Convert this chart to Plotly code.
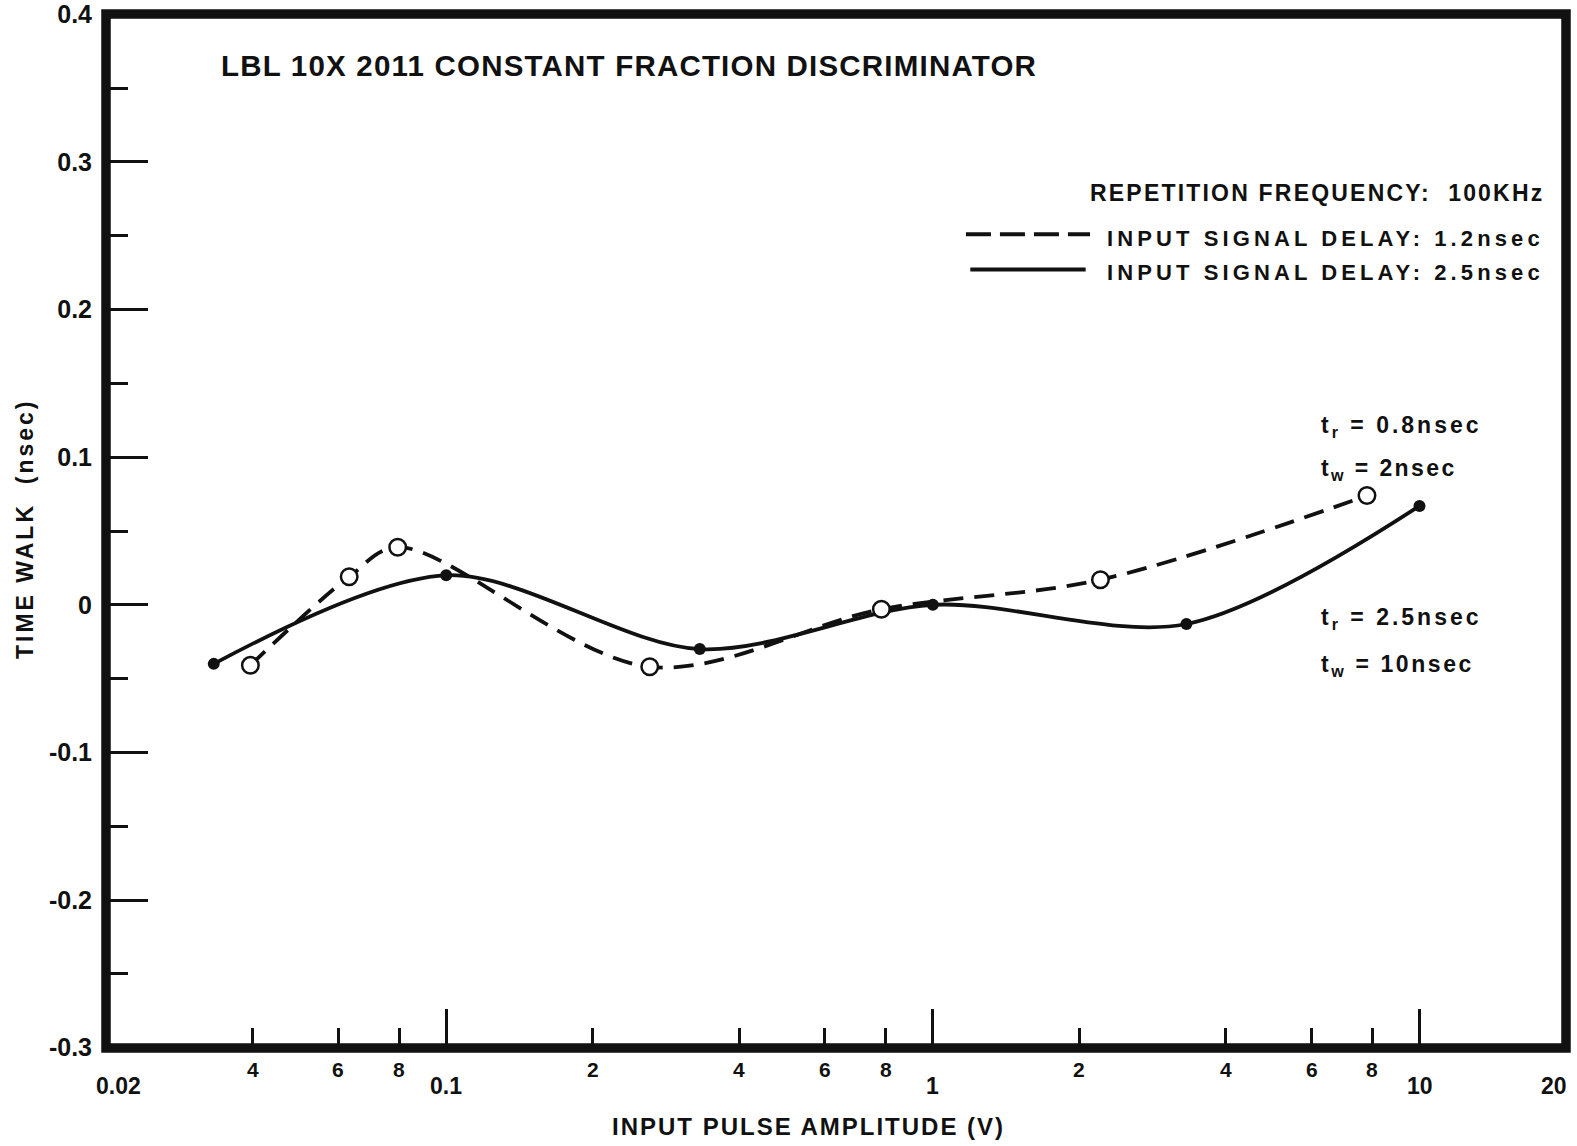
import plotly.graph_objects as go
import numpy as np

# Data (input pulse amplitude in V, time walk in nsec)
amp_solid = [0.0333, 0.100, 0.332, 1.00, 3.32, 10.0]
walk_solid = [-0.040, 0.020, -0.030, 0.000, -0.013, 0.067]
amp_dash = [0.0396, 0.0632, 0.0795, 0.262, 0.784, 2.21, 7.8]
walk_dash = [-0.041, 0.019, 0.039, -0.042, -0.003, 0.017, 0.074]

y_major = [-0.3, -0.2, -0.1, 0.0, 0.1, 0.2, 0.3, 0.4]
y_labels = ["-0.3", "-0.2", "-0.1", "0", "0.1", "0.2", "0.3", "0.4"]
y_minor = [-0.25, -0.15, -0.05, 0.05, 0.15, 0.25, 0.35]
x_major = [0.1, 1, 10]
x_minor = [0.04, 0.06, 0.08, 0.2, 0.4, 0.6, 0.8, 2, 4, 6, 8]
x_minor_labels = ["4", "6", "8", "2", "4", "6", "8", "2", "4", "6", "8"]
x_major_pos = [0.0212, 0.1, 1, 10, 18.9]
x_major_labels = ["0.02", "0.1", "1", "10", "20"]

FONT = "Liberation Sans"
BLACK = "#111111"

fig = go.Figure()
fig.add_trace(go.Scatter(x=amp_dash, y=walk_dash, mode="lines",
                         line=dict(color=BLACK, width=3.8, dash="20px,11px", shape="spline", smoothing=0.95),
                         hoverinfo="skip"))
fig.add_trace(go.Scatter(x=amp_solid, y=walk_solid, mode="lines",
                         line=dict(color=BLACK, width=3.8, shape="spline", smoothing=0.9),
                         hoverinfo="skip"))
fig.add_trace(go.Scatter(x=amp_solid, y=walk_solid, mode="markers",
                         marker=dict(symbol="circle", size=12, color=BLACK)))
fig.add_trace(go.Scatter(x=amp_dash, y=walk_dash, mode="markers",
                         marker=dict(symbol="circle", size=16.5, color="white",
                                     line=dict(color=BLACK, width=2.5))))

fig.update_layout(
    width=1577, height=1146,
    margin=dict(l=106, r=10.5, t=14, b=98),
    paper_bgcolor="white", plot_bgcolor="white",
    showlegend=False,
    font=dict(family=FONT, color=BLACK),
)
fig.update_xaxes(type="log", range=[np.log10(0.02), np.log10(20)], automargin=False,
                 showgrid=False, zeroline=False, showline=False,
                 tickmode="array", tickvals=x_major, ticks="inside", ticklen=39,
                 tickwidth=2.8, tickcolor=BLACK, showticklabels=False,
                 minor=dict(tickmode="array", tickvals=x_minor, ticks="inside",
                            ticklen=20, tickwidth=2.8, tickcolor=BLACK, showgrid=False))
fig.update_yaxes(range=[-0.3002, 0.4002], automargin=False,
                 showgrid=False, zeroline=False, showline=False,
                 tickmode="array", tickvals=y_major, ticktext=y_labels,
                 ticks="inside", ticklen=42, tickwidth=2.8, tickcolor=BLACK,
                 tickfont=dict(family=FONT, size=25, color=BLACK, weight="bold"),
                 ticklabelstandoff=13,
                 minor=dict(tickmode="array", tickvals=y_minor, ticks="inside",
                            ticklen=22, tickwidth=2.8, tickcolor=BLACK, showgrid=False))

ann = []
def add(text, x, y, size, xanchor="left", yanchor="middle", xref="paper", yref="paper", angle=0):
    ann.append(dict(text=text, x=x, y=y, xref=xref, yref=yref, showarrow=False,
                    xanchor=xanchor, yanchor=yanchor, textangle=angle,
                    font=dict(family=FONT, size=size, color=BLACK, weight="bold")))

def sp(text, px):
    return '<span style="letter-spacing:%spx">%s</span>' % (px, text)

add(sp("LBL 10X 2011 CONSTANT FRACTION DISCRIMINATOR", 1.2), 0.0776, 0.950, 29.5)
add(sp("REPETITION FREQUENCY:  100KHz", 2.2), 0.6728, 0.827, 23)
add(sp("INPUT SIGNAL DELAY: 1.2nsec", 4.1), 0.6845, 0.783, 22)
add(sp("INPUT SIGNAL DELAY: 2.5nsec", 4.1), 0.6845, 0.750, 22)
add(sp("t<sub>r</sub> = 0.8nsec", 3), 0.831, 0.601, 23)
add(sp("t<sub>w</sub> = 2nsec", 2.4), 0.831, 0.559, 23)
add(sp("t<sub>r</sub> = 2.5nsec", 3), 0.831, 0.415, 23)
add(sp("t<sub>w</sub> = 10nsec", 2.6), 0.831, 0.370, 23)
add(sp("TIME WALK  (nsec)", 3), -0.0554, 0.502, 23, xanchor="center", angle=-90)
add(sp("INPUT PULSE AMPLITUDE (V)", 2), 0.481, -0.0758, 24, xanchor="center")

for v, t in zip(x_minor, x_minor_labels):
    add(t, np.log10(v), -0.0205, 21, xanchor="center", xref="x")
for v, t in zip(x_major_pos, x_major_labels):
    add(t, np.log10(v), -0.037, 23, xanchor="center", xref="x")

fig.update_layout(annotations=ann)

# frame, centred on the range ends
fig.add_shape(type="rect", xref="paper", yref="paper", x0=0, x1=1, y0=0, y1=1,
              line=dict(color=BLACK, width=9.5), fillcolor="rgba(0,0,0,0)")
# legend line samples
fig.add_shape(type="line", xref="paper", yref="paper", x0=0.589, x1=0.674, y0=0.787, y1=0.787,
              line=dict(color=BLACK, width=4, dash="25px,9px"))
fig.add_shape(type="line", xref="paper", yref="paper", x0=0.592, x1=0.671, y0=0.753, y1=0.753,
              line=dict(color=BLACK, width=4))

fig.write_html("out.html")
